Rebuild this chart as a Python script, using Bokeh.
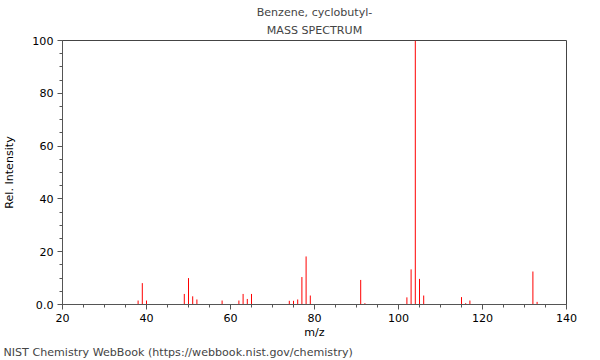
from bokeh.plotting import figure
from bokeh.models import Title, ColumnDataSource, FixedTicker
from bokeh.embed import file_html
from bokeh.resources import INLINE

mz = [38, 39, 40, 49, 50, 51, 52, 58, 62, 63, 64, 65, 74, 75, 76, 77, 78, 79,
      91, 92, 102, 103, 104, 105, 106, 115, 116, 117, 132, 133]
intensity = [1.5, 8.1, 1.5, 4.0, 10.0, 3.1, 1.9, 1.5, 1.5, 4.0, 2.1, 4.0, 1.4, 1.4,
             1.9, 10.4, 18.2, 3.4, 9.3, 0.5, 2.7, 13.3, 100.0, 9.7, 3.4, 2.8, 0.5,
             1.5, 12.5, 1.0]
x_ticks = [20, 40, 60, 80, 100, 120, 140]
y_ticks = [0, 20, 40, 60, 80, 100]
x_minor = list(range(20, 141, 5))
y_minor = list(range(0, 101, 5))

FONT = "DejaVu Sans"
FS = "11.1px"

p = figure(width=600, height=360, x_range=(20, 140), y_range=(0, 100),
           output_backend="svg", toolbar_location=None,
           min_border_left=62, min_border_right=34, min_border_top=40, min_border_bottom=56,
           title="Benzene, cyclobutyl-")
p.title.align = "center"
p.title.offset = -7
p.title.text_font = FONT
p.title.text_font_size = FS
p.title.text_font_style = "normal"
p.title.standoff = 0
p.add_layout(Title(text="MASS SPECTRUM", align="center", offset=-5, text_font=FONT,
                   text_font_size=FS, text_font_style="normal", standoff=7), "above")

src = ColumnDataSource(dict(mz=mz, y0=[0] * len(mz), inten=intensity))
p.segment(x0="mz", y0="y0", x1="mz", y1="inten", source=src, line_color="red", line_width=1)

p.xgrid.visible = False
p.ygrid.visible = False
p.outline_line_color = "#444444"
p.outline_line_width = 1

for ax in (p.xaxis[0], p.yaxis[0]):
    ax.axis_line_color = "#555555"
    ax.major_tick_line_color = "#555555"
    ax.minor_tick_line_color = "#555555"
    ax.major_tick_out = 5
    ax.major_tick_in = 0
    ax.minor_tick_out = 3
    ax.minor_tick_in = 0
    ax.major_label_text_font = FONT
    ax.major_label_text_font_size = FS
    ax.major_label_text_color = "black"
    ax.axis_label_text_font = FONT
    ax.axis_label_text_font_size = FS
    ax.axis_label_text_font_style = "normal"
    ax.axis_label_text_color = "black"

p.xaxis[0].ticker = FixedTicker(ticks=x_ticks, minor_ticks=x_minor)
p.yaxis[0].ticker = FixedTicker(ticks=y_ticks, minor_ticks=y_minor)
p.yaxis[0].major_label_overrides = {0: "0.0"}
p.xaxis.axis_label = "m/z"
p.yaxis.axis_label = "Rel. Intensity"
p.xaxis.major_label_standoff = 4
p.xaxis.axis_label_standoff = 1
p.yaxis.major_label_standoff = 4
p.yaxis.axis_label_standoff = 13

p.add_layout(Title(text="NIST Chemistry WebBook (https://webbook.nist.gov/chemistry)",
                   align="left", offset=-59, text_font=FONT, text_font_size=FS,
                   text_font_style="normal", standoff=4), "below")

open("out.html", "w").write(file_html(p, INLINE))
